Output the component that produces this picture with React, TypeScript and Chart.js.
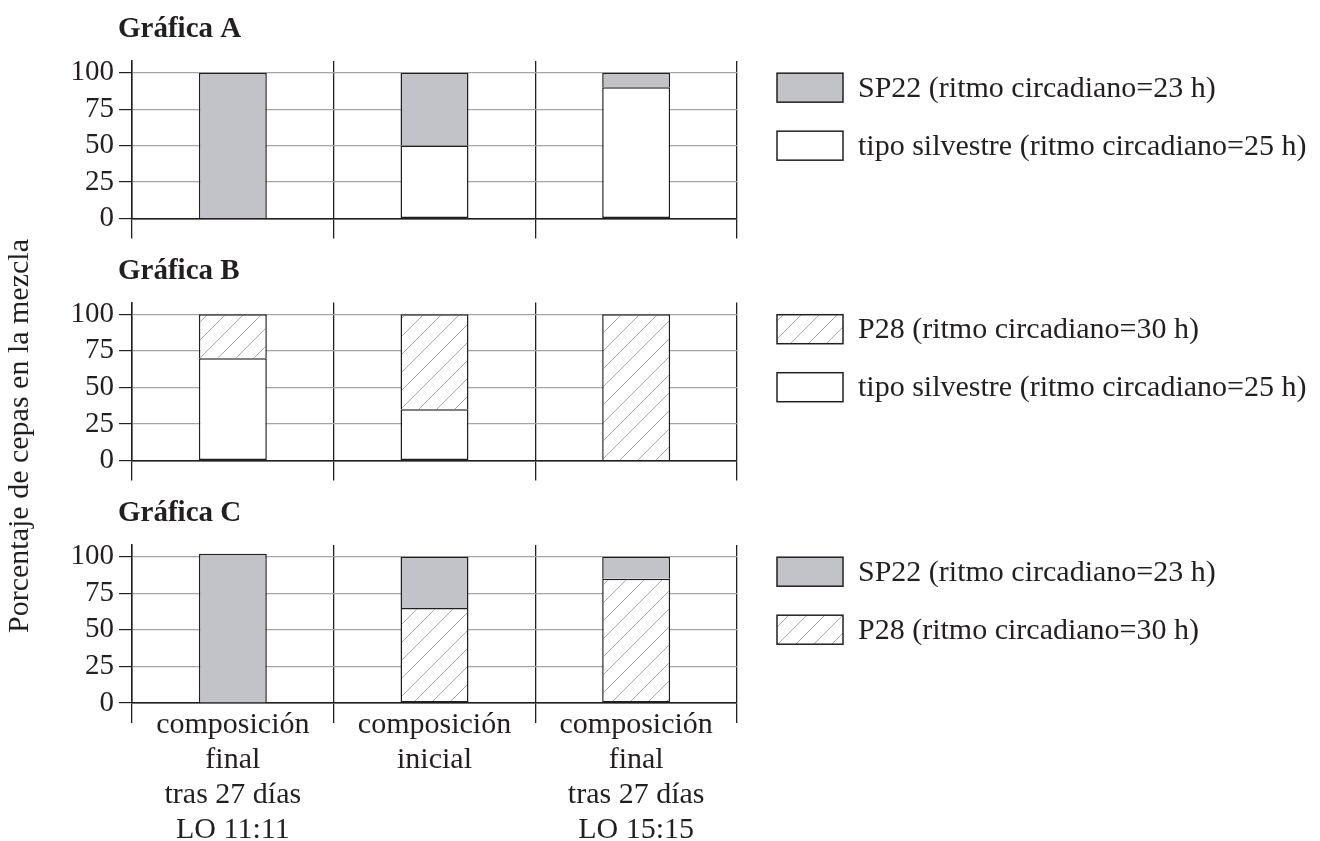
import { useEffect, useRef } from 'react';
import { Chart, registerables } from 'chart.js';

Chart.register(...registerables);

// categories (multi-line tick labels)
const categories = [
  ['composición', 'final', 'tras 27 días', 'LO 11:11'],
  ['composición', 'inicial'],
  ['composición', 'final', 'tras 27 días', 'LO 15:15'],
];
const yTicks = [0, 25, 50, 75, 100];

// series labels
const labelSP22 = 'SP22 (ritmo circadiano=23 h)';
const labelWild = 'tipo silvestre (ritmo circadiano=25 h)';
const labelP28 = 'P28 (ritmo circadiano=30 h)';

// Gráfica A
const aWild = [0, 50, 90];
const aSP22 = [100, 50, 10];
// Gráfica B
const bWild = [70, 35, 0];
const bP28 = [30, 65, 100];
// Gráfica C
const cP28 = [0, 65, 85];
const cSP22 = [102, 35, 15];

const FONT = '"Liberation Serif", "Times New Roman", serif';
const INK = '#231f20';
const GRAY = '#c1c3c9';
const GRID = '#a5a5a5';

function makeHatch(): CanvasPattern | string {
  const s = 18;
  const c = document.createElement('canvas');
  c.width = s;
  c.height = s;
  const g = c.getContext('2d');
  if (!g) return '#fff';
  g.fillStyle = '#fff';
  g.fillRect(0, 0, s, s);
  g.strokeStyle = '#a8a8a8';
  g.lineWidth = 1;
  g.beginPath();
  g.moveTo(-2, s + 2);
  g.lineTo(s + 2, -2);
  g.moveTo(-s / 2 - 2, s / 2 + 2);
  g.lineTo(s / 2 + 2, -s / 2 - 2);
  g.moveTo(s / 2 - 2, s * 1.5 + 2);
  g.lineTo(s * 1.5 + 2, s / 2 - 2);
  g.stroke();
  return g.createPattern(c, 'repeat') ?? '#fff';
}

// draws panel title, legend on the right and (optionally) the shared y title
const panelDecor = {
  id: 'panelDecor',
  afterDraw(chart: any, _args: any, opts: any) {
    const { ctx, chartArea, scales } = chart;
    const y100 = scales.y.getPixelForValue(100);
    ctx.save();
    ctx.fillStyle = INK;
    ctx.textBaseline = 'middle';
    ctx.textAlign = 'left';
    ctx.font = `bold 29px ${FONT}`;
    ctx.fillText(opts.title, chartArea.left - 14, y100 - 43);

    ctx.font = `30px ${FONT}`;
    const items = chart.data.datasets.slice().reverse();
    items.forEach((ds: any, i: number) => {
      const yc = y100 + 15 + i * 58;
      const x0 = chartArea.right + 40;
      ctx.fillStyle = ds.backgroundColor;
      ctx.fillRect(x0, yc - 14.5, 66, 29);
      ctx.strokeStyle = INK;
      ctx.lineWidth = 1.5;
      ctx.strokeRect(x0, yc - 14.5, 66, 29);
      ctx.fillStyle = INK;
      ctx.fillText(ds.label, x0 + 81, yc + 1);
    });

    if (opts.yTitle) {
      ctx.translate(20, 436);
      ctx.rotate(-Math.PI / 2);
      ctx.textAlign = 'center';
      ctx.fillText(opts.yTitle, 0, 0);
    }
    ctx.restore();
  },
};

type Series = { label: string; data: number[]; fill: 'gray' | 'white' | 'hatch' };

type PanelProps = {
  title: string;
  series: Series[];
  top: number;
  bottom: number;
  xHeight: number;
  showLabels: boolean;
  yTitle?: string;
};

const Panel = ({ title, series, top, bottom, xHeight, showLabels, yTitle }: PanelProps) => {
  const ref = useRef<HTMLCanvasElement>(null);

  useEffect(() => {
    const ctx = ref.current?.getContext('2d');
    if (!ctx) return;
    const hatch = makeHatch();
    const fillOf = (f: Series['fill']) => (f === 'gray' ? GRAY : f === 'hatch' ? hatch : '#fff');

    const chart = new Chart(ctx, {
      type: 'bar',
      data: {
        labels: categories,
        datasets: series.map((s, i) => ({
          label: s.label,
          data: s.data,
          backgroundColor: fillOf(s.fill),
          borderColor: INK,
          borderWidth: 1.5,
          // upper segment shares the lower segment's top edge
          borderSkipped: i === 0 ? false : 'start',
          barPercentage: 0.337,
          categoryPercentage: 1,
        })),
      },
      plugins: [panelDecor],
      options: {
        responsive: false,
        animation: false,
        layout: { padding: { top, bottom, left: 0, right: 583 } },
        plugins: {
          legend: { display: false },
          tooltip: { enabled: false },
          panelDecor: { title, yTitle },
        } as any,
        scales: {
          x: {
            stacked: true,
            grid: { offset: true, color: INK, lineWidth: 1.3, tickLength: 20, tickColor: INK },
            border: { color: INK, width: 1.5 },
            ticks: {
              display: showLabels,
              color: INK,
              font: { family: FONT, size: 30, lineHeight: 1.16 },
              maxRotation: 0,
              autoSkip: false,
              padding: -15,
            },
            afterFit: (s: any) => {
              s.height = xHeight;
            },
          },
          y: {
            stacked: true,
            min: 0,
            max: 108,
            afterBuildTicks: (s: any) => {
              s.ticks = yTicks.map((v) => ({ value: v }));
            },
            grid: {
              color: (c: any) => (c.tick && c.tick.value === 0 ? INK : GRID),
              lineWidth: 1.2,
              tickLength: 13,
              tickColor: INK,
            },
            border: { color: INK, width: 1.5 },
            ticks: { color: INK, font: { family: FONT, size: 29 }, padding: 5 },
            afterFit: (s: any) => {
              s.width = 132;
            },
          },
        },
      },
    });

    return () => {
      chart.destroy();
    };
  }, []);

  return (
    <canvas
      ref={ref}
      width={1320}
      height={841}
      style={{ position: 'absolute', left: 0, top: 0, width: 1320, height: 841 }}
    />
  );
};

const App = () => (
  <div style={{ position: 'absolute', left: 0, top: 0, width: 1320, height: 841, background: '#fff' }}>
    <Panel
      title="Gráfica A"
      series={[
        { label: labelWild, data: aWild, fill: 'white' },
        { label: labelSP22, data: aSP22, fill: 'gray' },
      ]}
      top={61}
      bottom={841 - 218.5 - 20}
      xHeight={20}
      showLabels={false}
    />
    <Panel
      title="Gráfica B"
      series={[
        { label: labelWild, data: bWild, fill: 'white' },
        { label: labelP28, data: bP28, fill: 'hatch' },
      ]}
      top={302.5}
      bottom={841 - 460.6 - 20}
      xHeight={20}
      showLabels={false}
      yTitle="Porcentaje de cepas en la mezcla"
    />
    <Panel
      title="Gráfica C"
      series={[
        { label: labelP28, data: cP28, fill: 'hatch' },
        { label: labelSP22, data: cSP22, fill: 'gray' },
      ]}
      top={545}
      bottom={0}
      xHeight={841 - 703}
      showLabels={true}
    />
  </div>
);

export default App;
